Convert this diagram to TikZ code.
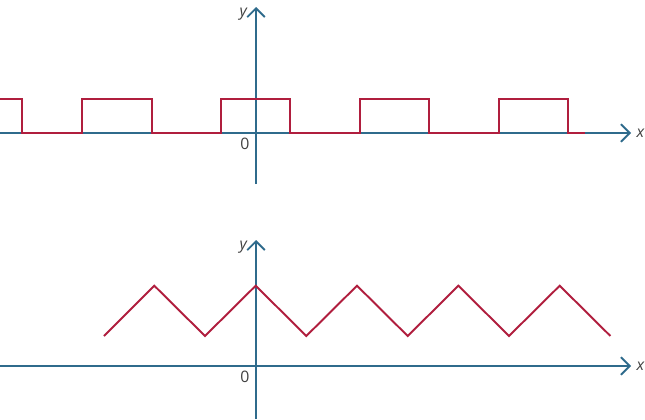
\documentclass[tikz,border=0pt]{standalone}
\usepackage{fontspec}
\setmainfont{Open Sans}
\usetikzlibrary{arrows.meta, positioning}
\definecolor{axisblue}{HTML}{2F6B8C}
\definecolor{wavered}{HTML}{B01E3E}
\definecolor{labelgray}{HTML}{404040}
\tikzset{
    axis/.style={draw=axisblue, line width=1.1pt, -{Straight Barb[length=5pt, width=10pt, line width=1.1pt]}},
    wave/.style={draw=wavered, line width=1.1pt, line join=miter},
    lbl/.style={text=labelgray, font=\small, inner sep=1pt}
}

\begin{document}
\begin{tikzpicture}[x=0.02cm, y=-0.02cm]
    \useasboundingbox (0, 0) rectangle (645, 419);
    % top: square wave
    \coordinate (xa0) at (0, 133);
    \coordinate (xa1) at (631, 133);
    \coordinate (ya0) at (256, 184);
    \coordinate (ya1) at (256, 7);
    \draw[axis] (xa0) -- (xa1);
    \draw[axis] (ya0) -- (ya1);
    \node[lbl, right=2pt of xa1] (xlbl) {\itshape x};
    \node[lbl, left=4pt of ya1, yshift=-4pt] (ylbl) {\itshape y};
    \node[lbl] (zero) at (245, 144) {0};
    \draw[wave]
    (0, 99) -- (21.7, 99) -- (21.7, 133) -- (81.7, 133) -- (81.7, 99) -- (151.7, 99)
    -- (151.7, 133) -- (221, 133) -- (221, 99) -- (290.4, 99) -- (290.4, 133)
    -- (360, 133) -- (360, 99) -- (429.4, 99) -- (429.4, 133) -- (499, 133)
    -- (499, 99) -- (568.3, 99) -- (568.3, 133) -- (585, 133);
    % bottom: triangle wave
    \coordinate (xb0) at (0, 366);
    \coordinate (xb1) at (631, 366);
    \coordinate (yb0) at (256, 419);
    \coordinate (yb1) at (256, 240);
    \draw[axis] (xb0) -- (xb1);
    \draw[axis] (yb0) -- (yb1);
    \node[lbl, right=2pt of xb1] (xlbl2) {\itshape x};
    \node[lbl, left=4pt of yb1, yshift=-4pt] (ylbl2) {\itshape y};
    \node[lbl] (zero2) at (245, 377) {0};
    \draw[wave]
    (104, 336) -- (154.3, 285.7) -- (205, 336) -- (255.7, 285.7) -- (306.3, 336)
    -- (357, 285.7) -- (407.7, 336) -- (458.4, 285.7) -- (509, 336)
    -- (559.7, 285.7) -- (610.4, 336);
\end{tikzpicture}
\end{document}
